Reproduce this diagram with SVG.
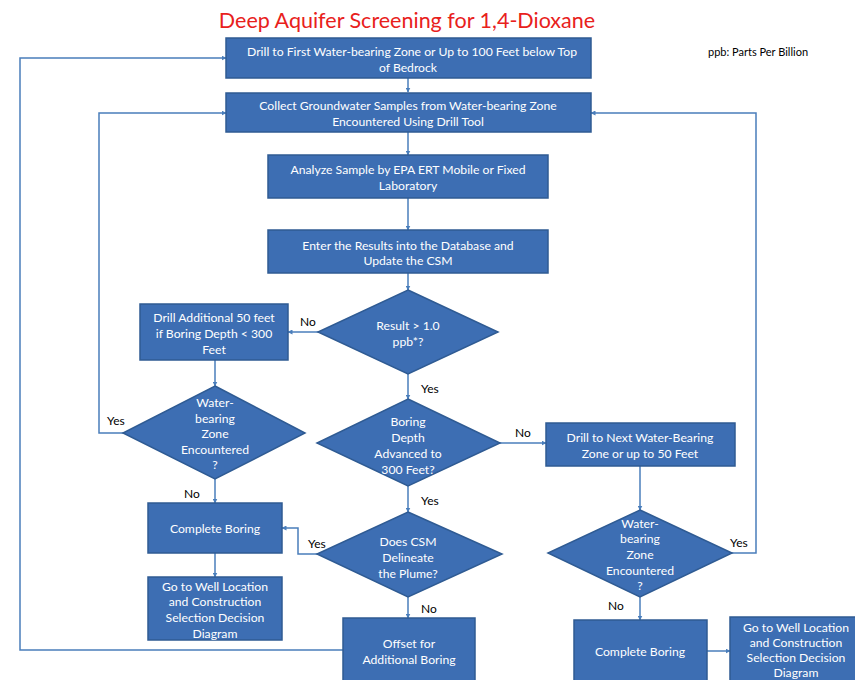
<svg xmlns="http://www.w3.org/2000/svg" width="855" height="680" viewBox="0 0 855 680">
<style>
.box{fill:#3d6eb3;stroke:#2f5b93;stroke-width:1.5}
.t{font-family:Lato,"Liberation Sans",sans-serif;font-size:12.2px;fill:#ffffff;text-anchor:middle;dominant-baseline:central}
.lbl{font-family:Lato,"Liberation Sans",sans-serif;font-size:12px;fill:#000000;dominant-baseline:central}
.ln{fill:none;stroke:#4a7ebb;stroke-width:1.5}
</style>
<defs>
<marker id="ah" viewBox="0 0 10 10" refX="9" refY="5" markerWidth="5" markerHeight="5" orient="auto" markerUnits="userSpaceOnUse">
<path d="M0,0 L10,5 L0,10 z" fill="#4a7ebb"/>
</marker>
</defs>
<rect width="855" height="680" fill="#ffffff"/>
<text x="407" y="20" style="font-family:Lato,'Liberation Sans',sans-serif;font-size:21.5px;fill:#e8211c;text-anchor:middle;dominant-baseline:central">Deep Aquifer Screening for 1,4-Dioxane</text>
<text x="708" y="51" style="font-family:Lato,'Liberation Sans',sans-serif;font-size:11px;fill:#000;dominant-baseline:central">ppb: Parts Per Billion</text>

<g id="connectors">
<path class="ln" marker-end="url(#ah)" d="M408,78 V92"/>
<path class="ln" marker-end="url(#ah)" d="M408,132 V155"/>
<path class="ln" marker-end="url(#ah)" d="M408,198 V230"/>
<path class="ln" marker-end="url(#ah)" d="M408,273 V290"/>
<path class="ln" marker-end="url(#ah)" d="M318,332 H288"/>
<path class="ln" marker-end="url(#ah)" d="M215,360 V386"/>
<path class="ln" marker-end="url(#ah)" d="M123,433 H99 V113 H226"/>
<path class="ln" marker-end="url(#ah)" d="M215,479 V503"/>
<path class="ln" marker-end="url(#ah)" d="M215,553 V577"/>
<path class="ln" marker-end="url(#ah)" d="M408,374 V399"/>
<path class="ln" marker-end="url(#ah)" d="M500,443 H546"/>
<path class="ln" marker-end="url(#ah)" d="M640,466 V510"/>
<path class="ln" marker-end="url(#ah)" d="M732,553 H756 V113 H591"/>
<path class="ln" marker-end="url(#ah)" d="M640,597 V620"/>
<path class="ln" marker-end="url(#ah)" d="M707,651 H730"/>
<path class="ln" marker-end="url(#ah)" d="M408,486 V512"/>
<path class="ln" marker-end="url(#ah)" d="M317,554 H298 V528 H282"/>
<path class="ln" marker-end="url(#ah)" d="M408,597 V618"/>
<path class="ln" marker-end="url(#ah)" d="M343,650 H20 V58 H226"/>
<text class="lbl" x="300" y="321">No</text>
<text class="lbl" x="107" y="420">Yes</text>
<text class="lbl" x="184" y="493">No</text>
<text class="lbl" x="421" y="388">Yes</text>
<text class="lbl" x="421" y="500">Yes</text>
<text class="lbl" x="515" y="432">No</text>
<text class="lbl" x="308" y="543">Yes</text>
<text class="lbl" x="421" y="608">No</text>
<text class="lbl" x="730" y="542">Yes</text>
<text class="lbl" x="608" y="605">No</text>
</g>

<g id="n1"><rect class="box" x="226" y="38" width="365" height="40"/>
<text class="t" x="412" y="51">Drill to First Water-bearing Zone or Up to 100 Feet below Top</text>
<text class="t" x="408" y="67">of Bedrock</text></g>

<g id="n2"><rect class="box" x="226" y="93" width="365" height="39"/>
<text class="t" x="408" y="105">Collect Groundwater Samples from Water-bearing Zone</text>
<text class="t" x="408" y="121">Encountered Using Drill Tool</text></g>

<g id="n3"><rect class="box" x="268" y="155" width="280" height="43"/>
<text class="t" x="408" y="169">Analyze Sample by EPA ERT Mobile or Fixed</text>
<text class="t" x="408" y="185">Laboratory</text></g>

<g id="n4"><rect class="box" x="268" y="230" width="280" height="43"/>
<text class="t" x="408" y="245">Enter the Results into the Database  and</text>
<text class="t" x="408" y="260">Update the CSM</text></g>

<g id="d1"><polygon class="box" points="408,290 498,332 408,374 318,332"/>
<text class="t" x="408" y="325">Result &gt; 1.0</text>
<text class="t" x="408" y="341">ppb*?</text></g>

<g id="n5"><rect class="box" x="140" y="304" width="148" height="56"/>
<text class="t" x="214" y="317">Drill Additional 50 feet</text>
<text class="t" x="214" y="333">if Boring Depth &lt; 300</text>
<text class="t" x="214" y="349">Feet</text></g>

<g id="d2"><polygon class="box" points="215,386 305,433 215,479 123,433"/>
<text class="t" x="215" y="402">Water-</text>
<text class="t" x="215" y="418">bearing</text>
<text class="t" x="215" y="433">Zone</text>
<text class="t" x="215" y="449">Encountered</text>
<text class="t" x="215" y="464">?</text></g>

<g id="d3"><polygon class="box" points="408,399 500,443 408,486 317,443"/>
<text class="t" x="408" y="421">Boring</text>
<text class="t" x="408" y="437">Depth</text>
<text class="t" x="408" y="453">Advanced to</text>
<text class="t" x="408" y="469">300 Feet?</text></g>

<g id="n6"><rect class="box" x="546" y="423" width="189" height="43"/>
<text class="t" x="640" y="437">Drill to Next Water-Bearing</text>
<text class="t" x="640" y="453">Zone or up to 50 Feet</text></g>

<g id="d4"><polygon class="box" points="640,510 732,553 640,597 548,553"/>
<text class="t" x="640" y="523">Water-</text>
<text class="t" x="640" y="538">bearing</text>
<text class="t" x="640" y="554">Zone</text>
<text class="t" x="640" y="570">Encountered</text>
<text class="t" x="640" y="585">?</text></g>

<g id="n7"><rect class="box" x="148" y="503" width="134" height="50"/>
<text class="t" x="215" y="528">Complete Boring</text></g>

<g id="n8"><rect class="box" x="148" y="577" width="134" height="63"/>
<text class="t" x="215" y="586">Go to Well Location</text>
<text class="t" x="215" y="601">and Construction</text>
<text class="t" x="215" y="617">Selection Decision</text>
<text class="t" x="215" y="633">Diagram</text></g>

<g id="d5"><polygon class="box" points="408,512 502,554 408,597 317,554"/>
<text class="t" x="408" y="541">Does CSM</text>
<text class="t" x="408" y="557">Delineate</text>
<text class="t" x="408" y="573">the Plume?</text></g>

<g id="n9"><rect class="box" x="343" y="618" width="132" height="70"/>
<text class="t" x="409" y="643">Offset for</text>
<text class="t" x="409" y="659">Additional Boring</text></g>

<g id="n10"><rect class="box" x="574" y="620" width="133" height="68"/>
<text class="t" x="640" y="651">Complete Boring</text></g>

<g id="n11"><rect class="box" x="730" y="617" width="135" height="71"/>
<text class="t" x="796" y="627">Go to Well Location</text>
<text class="t" x="796" y="642">and Construction</text>
<text class="t" x="796" y="657">Selection Decision</text>
<text class="t" x="796" y="672">Diagram</text></g>
</svg>
